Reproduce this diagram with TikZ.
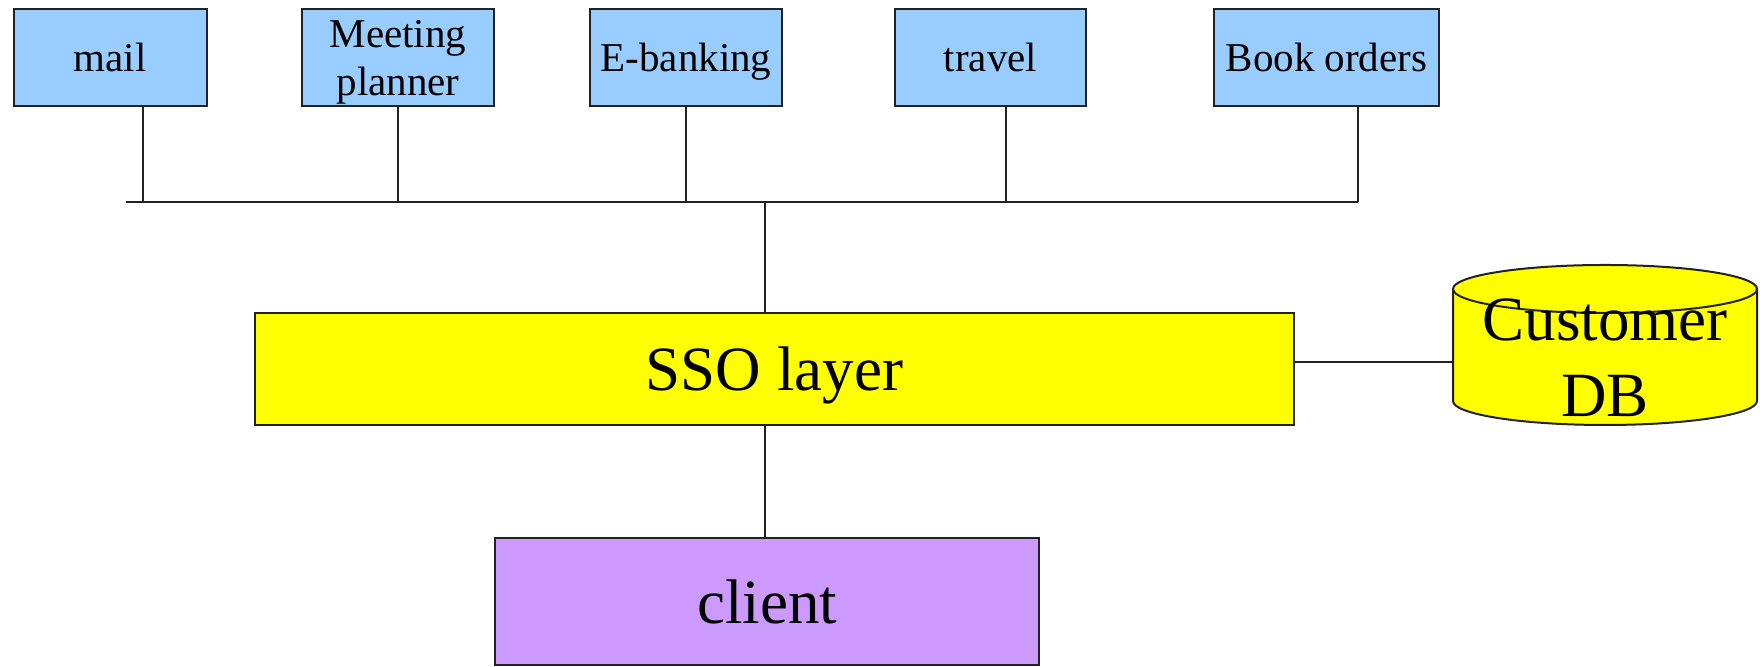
\documentclass[tikz,border=0pt]{standalone}
\usepackage{fontspec}
\setmainfont{Liberation Serif}
\definecolor{appblue}{HTML}{99CCFF}
\definecolor{ssoyellow}{HTML}{FFFF00}
\definecolor{clientpurple}{HTML}{CC99FF}
\definecolor{edge}{HTML}{222222}
\begin{document}
\begin{tikzpicture}[x=0.5pt,y=0.5pt,
  box/.style={draw=edge, line width=1pt, inner sep=0pt, outer sep=0pt, text depth=0pt},
  app/.style={box, fill=appblue, minimum height=48.5pt, align=center,
    font=\fontsize{20.5pt}{24pt}\selectfont},
  big/.style={box, font=\fontsize{31.5pt}{38pt}\selectfont},
  wire/.style={draw=edge, line width=1pt}]
\useasboundingbox (0,0) rectangle (1760,667);

% application boxes
\node[app, minimum width=96.5pt] (mail)    at (110,609.5)   {mail};
\node[app, minimum width=96pt]   (meeting) at (398,609.5)   {Meeting\\planner};
\node[app, minimum width=96pt]   (ebank)   at (686,609.5)   {E-banking};
\node[app, minimum width=95.5pt] (travel)  at (990.5,609.5) {travel};
\node[app, minimum width=112.5pt](book)    at (1326.5,609.5){Book orders};

% SSO layer and client
\node[big, fill=ssoyellow, minimum width=519.5pt, minimum height=56pt] (sso) at (774.5,298) {SSO layer};
\node[big, fill=clientpurple, minimum width=272pt, minimum height=63.5pt] (client) at (767,65.5) {client};

% customer database (cylinder)
\node[inner sep=0pt, outer sep=0pt, minimum width=152pt, minimum height=80pt] (db) at (1605,322) {};
\path[draw=edge, line width=1pt, fill=ssoyellow]
  ([yshift=-12pt]db.north west) -- ([yshift=12pt]db.south west)
  arc[start angle=180, end angle=360, x radius=76pt, y radius=12pt]
  -- ([yshift=-12pt]db.north east)
  arc[start angle=0, end angle=180, x radius=76pt, y radius=12pt] -- cycle;
\draw[draw=edge, line width=1pt] ([yshift=-12pt]db.north west)
  arc[start angle=180, end angle=360, x radius=76pt, y radius=12pt];
\node[big, draw=none, align=center, anchor=south] (dblabel) at ([yshift=4pt]db.south) {Customer\\DB};

% bus connecting the applications
\coordinate (busL) at (126,465);
\coordinate (tMail) at (142.5,465);
\coordinate (tTravel) at (1006,465);
\coordinate (tBook) at (1358,465);
\coordinate (hub) at (765,465);

\draw[wire] (busL) -- (tBook);
\draw[wire] (tMail) -- (tMail |- mail.south);
\draw[wire] (meeting.south) -- (meeting.south |- busL);
\draw[wire] (ebank.south) -- (ebank.south |- busL);
\draw[wire] (tTravel) -- (tTravel |- travel.south);
\draw[wire] (tBook) -- (tBook |- book.south);

% SSO links
\draw[wire] (hub) -- (hub |- sso.north);
\draw[wire] (sso.south -| hub) -- (client.north -| hub);
\draw[wire] ([yshift=3.5pt]sso.east) -- ([yshift=3.5pt]sso.east -| db.west);
\end{tikzpicture}
\end{document}
